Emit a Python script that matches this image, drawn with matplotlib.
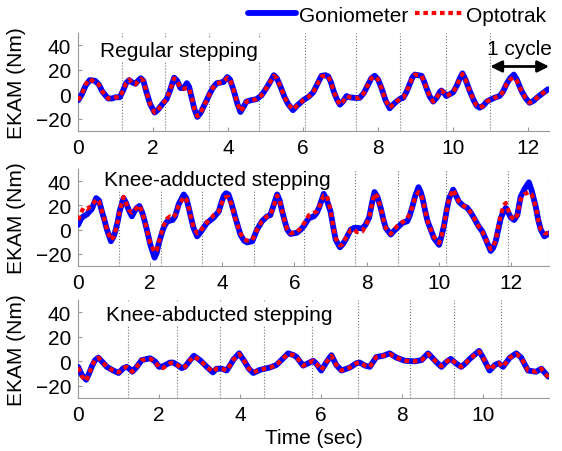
import matplotlib
matplotlib.use("Agg")
import matplotlib.pyplot as plt

plt.rcParams['font.family'] = ['Liberation Sans', 'DejaVu Sans']
plt.rcParams['font.size'] = 15

# ---------------- data ----------------
# Regular stepping
t_reg = [0.00, 0.10, 0.20, 0.31, 0.45, 0.55, 0.65, 0.80, 0.90, 1.00, 1.11, 1.20, 1.28, 1.36, 1.45,
         1.53, 1.60, 1.67, 1.74, 1.82, 1.92, 2.04, 2.12, 2.25, 2.36, 2.45, 2.56, 2.64, 2.73, 2.82,
         2.90, 2.96, 3.03, 3.10, 3.18, 3.27, 3.42, 3.52, 3.60, 3.70, 3.80, 3.88, 3.98, 4.05, 4.15,
         4.25, 4.33, 4.40, 4.49, 4.60, 4.76, 4.89, 5.00, 5.10, 5.22, 5.30, 5.40, 5.50, 5.60, 5.73,
         5.85, 6.00, 6.15, 6.27, 6.36, 6.49, 6.60, 6.67, 6.74, 6.82, 6.90, 6.98, 7.06, 7.16, 7.24,
         7.38, 7.51, 7.62, 7.72, 7.82, 7.91, 8.00, 8.09, 8.20, 8.31, 8.40, 8.49, 8.60, 8.67, 8.76,
         8.84, 8.92, 8.98, 9.07, 9.16, 9.22, 9.29, 9.38, 9.47, 9.56, 9.65, 9.69, 9.76, 9.82, 9.91,
         10.00, 10.10, 10.18, 10.25, 10.33, 10.44, 10.55, 10.63, 10.71, 10.80, 10.90, 10.99, 11.10, 11.24, 11.33,
         11.42, 11.52, 11.62, 11.70, 11.82, 11.93, 12.04, 12.14, 12.27, 12.40, 12.53]
gonio_reg = [-5, 0, 7, 11.5, 11, 8, 2, -3.5, -3.5, -2.5, -2.5, 3, 9, 11.5, 9.5,
             8.5, 11, 13, 11, 2, -8, -15, -13, -8, -4, 3, 13.5, 11, 5, 5,
             9, 6, -3, -12, -18.5, -15, -5.5, 1, 5.5, 9, 9.5, 10, 14, 12, 3,
             -8, -14.5, -11, -6, -5, -4, -1, 4, 9, 15.5, 13, 6, -2, -8, -13,
             -9, -5, -2, 1.5, 7, 15, 15.5, 14.5, 10, 2, -4, -8.5, -6, -1.5, -2.5,
             -3, -3, 1, 7, 13, 15, 12, 5, -5, -11.5, -8.5, -6, -3.5, -3, 2,
             8, 14, 16, 15.5, 15, 11, 5, -2, -6, -3, 2, 3, 1, -1.5, 0,
             1.5, 7, 13, 17, 12, 3, -5, -9.5, -11, -9.5, -6, -4.5, -3, -1.5, 2,
             8, 13, 16, 12, 3, -3, -7, -5.5, -2, 1, 4]
opto_reg = [-5, 0, 8, 12.5, 9.5, 8, 2, -3.5, -3.5, -2.5, -2.5, 3, 9, 12, 9,
            8, 11, 12.5, 11, 2, -8, -15, -13, -8, -4, 3, 13, 11, 5, 4.5,
            5, 5, -3, -12, -18, -15, -5.5, 1, 5.5, 9, 9.5, 10, 13.5, 12, 3,
            -8, -14, -11, -6, -5, -4, -1, 4, 9, 15, 13, 6, -2, -8, -12.5,
            -9, -5, -2, 1.5, 7, 14.5, 15, 14.5, 10, 2, -4, -8.5, -6, -1.5, -2.5,
            -3, -3, 1, 7, 13, 14.5, 12, 5, -5, -11, -8.5, -6, -3.5, -3, 2,
            8, 14, 16, 15.5, 15, 11, 5, -2, -6, -3, 2, 3, 1, -1.5, 0,
            1.5, 7, 13, 16.5, 12, 3, -5, -9.5, -11, -9.5, -6, -4.5, -3, -1.5, 2,
            8, 12, 13.5, 11, 3, -3, -7, -5.5, -2, 1, 4]
cycles_reg = [1.17, 2.33, 3.49, 4.83, 6.06, 7.42, 8.58, 9.82, 10.99]

# Knee-adducted stepping
t_add = [0.00, 0.08, 0.15, 0.24, 0.38, 0.50, 0.58, 0.66, 0.73, 0.80, 0.91, 0.98, 1.03, 1.10, 1.15,
         1.26, 1.33, 1.40, 1.49, 1.56, 1.63, 1.70, 1.78, 1.86, 1.93, 2.00, 2.12, 2.18, 2.23, 2.30,
         2.37, 2.46, 2.55, 2.62, 2.69, 2.79, 2.93, 3.00, 3.06, 3.13, 3.20, 3.30, 3.37, 3.44, 3.57,
         3.70, 3.76, 3.90, 3.97, 4.04, 4.10, 4.17, 4.25, 4.36, 4.50, 4.60, 4.69, 4.83, 4.96, 5.10,
         5.24, 5.33, 5.42, 5.52, 5.59, 5.66, 5.73, 5.80, 5.89, 6.07, 6.17, 6.26, 6.40, 6.54, 6.62,
         6.68, 6.75, 6.81, 6.90, 7.00, 7.07, 7.14, 7.26, 7.34, 7.42, 7.56, 7.65, 7.74, 7.88, 7.97,
         8.07, 8.15, 8.22, 8.30, 8.39, 8.46, 8.53, 8.67, 8.76, 8.85, 8.99, 9.13, 9.20, 9.27, 9.35,
         9.44, 9.50, 9.55, 9.62, 9.69, 9.78, 9.87, 10.01, 10.08, 10.15, 10.22, 10.29, 10.40, 10.48, 10.56,
         10.67, 10.79, 10.89, 10.98, 11.10, 11.21, 11.32, 11.44, 11.51, 11.58, 11.65, 11.72, 11.80, 11.86, 11.93,
         12.00, 12.09, 12.18, 12.27, 12.37, 12.50, 12.58, 12.69, 12.76, 12.83, 12.93, 13.06]
gonio_add = [4, 9, 11, 12.5, 17, 26, 24, 15, 8, 0, -9.5, -6, -1.5, 7, 15,
             26, 22, 16.5, 11, 15, 18, 19.5, 14, 5.5, -3, -12, -23, -19, -12, -5,
             1.5, 6.5, 7.5, 8, 11, 21, 29, 26, 19, 10, 1.5, -5.5, -3, 0, 5.5,
             8.5, 10, 15, 22, 28, 30, 29, 22, 10, -4, -9, -10.5, -9.5, 0, 7,
             11, 12, 20, 29, 24, 15, 7, 0, -3.5, -2.5, 0, 3, 9.5, 11, 14,
             18, 24, 29.5, 24, 15, 3, -8, -14.5, -12, -8, 0, 1.5, 1.5, 1, 4,
             10, 22, 31, 27, 18, 9, 1.5, -4, -1, 1.5, 5.5, 7, 12, 19, 28,
             35, 31, 26, 16, 7, 0, -7, -12.5, -5, 4, 16, 26, 33, 28, 23,
             20, 18, 14, 9.5, 3, -1.5, -9, -17.5, -15, -9.5, 0, 9.5, 15, 18, 14,
             10, 8, 12, 27, 33, 39, 32, 19, 8, 0, -5.5, -3]
opto_add = [8, 14, 18, 17, 20, 25, 23, 15, 8, 0, -8.5, -6, -1.5, 7, 15,
            27, 22, 16.5, 14, 16, 18, 20, 14, 5.5, -3, -11, -18.5, -17, -11, -4,
            3, 9, 11, 10, 12, 20, 27, 25, 19, 10, 2, -3, -2, 1, 6,
            10, 12, 15, 21, 26, 27, 27, 21, 9, -3, -8, -9, -8.5, 0, 7,
            11, 12, 19, 28, 24, 15, 7, 0, -3, -2, 1, 5, 12, 14, 15,
            18, 24, 28, 28, 16, 3, -7, -13, -12, -7, 0, 0, -2, -1.5, 3,
            10, 21, 30, 27, 18, 9, 1.5, -3.5, 0, 3, 6, 9.5, 13, 19, 27,
            31, 30, 25, 16, 7, 0, -6, -11, -5, 4, 16, 26, 33, 28, 23,
            20, 18, 14, 9.5, 3, -1.5, -9, -16, -14, -9, 2, 12, 20, 22, 16,
            11, 8, 12, 25, 29, 31, 29, 19, 8, 0, -3, -3]
cycles_add = [1.12, 2.31, 3.44, 4.88, 6.26, 7.68, 8.87, 10.21, 11.91, 13.05]

# Knee-abducted stepping
t_abd = [0.00, 0.09, 0.20, 0.27, 0.34, 0.42, 0.50, 0.60, 0.71, 0.87, 1.00, 1.12, 1.20, 1.27, 1.34,
         1.45, 1.57, 1.78, 1.90, 2.00, 2.10, 2.27, 2.35, 2.48, 2.56, 2.64, 2.77, 2.86, 3.01, 3.18,
         3.33, 3.42, 3.55, 3.67, 3.76, 3.84, 3.98, 4.05, 4.12, 4.22, 4.33, 4.49, 4.74, 4.90, 5.07,
         5.19, 5.33, 5.40, 5.56, 5.69, 5.81, 5.89, 6.01, 6.14, 6.26, 6.38, 6.51, 6.72, 6.88, 6.96,
         7.09, 7.21, 7.37, 7.54, 7.70, 7.87, 8.07, 8.32, 8.49, 8.65, 8.78, 8.85, 8.98, 9.10, 9.21,
         9.35, 9.47, 9.58, 9.68, 9.91, 10.00, 10.17, 10.30, 10.40, 10.50, 10.67, 10.83, 10.95, 11.12, 11.32,
         11.45, 11.62]
gonio_abd = [-4.5, -11, -15, -10, -4, 1, 3, -0.5, -4.5, -7.5, -9.5, -5.5, -4.5, -6, -8.5,
             -4.5, 1, 2.5, 0, -4.5, -4, -1, -1, -3.5, -5.5, -4.5, 1, 4.5, 1, -4.5,
             -9, -6, -6, -7.5, -3, 1.5, 6.5, 3, -0.5, -6, -9.5, -7, -5, -3, 2.5,
             6.5, 5, 3.5, -3.5, -1.5, 0.5, -2, -7.5, -0.5, 5, -3, -7.5, -5, -1.5, -1,
             -3.5, -4.5, 3.5, 4.5, 6.5, 3, 0.5, 0, 1, 6.5, 2, -0.5, -4.5, -0.5, 2,
             -2, -4.5, -1.5, 2, 8.5, 3.5, -7.5, -3, -1.5, -4.5, 3, 6.5, 3, -7.5, -8.5,
             -6, -12.5]
opto_abd = [-5, -12, -16, -10, -4, 1.5, 3, -0.5, -4.5, -7.5, -9, -5.5, -4.5, -6, -8.5,
            -4.5, 1, 2, 0, -5, -5.5, -1.5, -1, -3.5, -5.5, -4.5, 1, 4, 1, -4.5,
            -8.5, -6, -6, -7.5, -3, 1.5, 6, 3, -0.5, -6, -9, -7, -5, -3, 2.5,
            6, 5, 3.5, -3.5, -1.5, 0.5, -2, -7, -0.5, 4.5, -3, -7.5, -5, -1.5, -1,
            -3.5, -4.5, 3.5, 4.5, 6, 3, 0.5, 0, 1, 6, 2, -0.5, -4, -0.5, 2,
            -2, -4.5, -1.5, 2, 8, 3.5, -7, -3, -1.5, -4.5, 3, 6, 3, -7.5, -8.5,
            -6, -13]
cycles_abd = [1.24, 2.45, 3.51, 4.60, 5.77, 6.92, 8.21, 9.29, 10.46]

titles = ["Regular stepping", "Knee-adducted stepping", "Knee-abducted stepping"]
t_all = [t_reg, t_add, t_abd]
gonio_all = [gonio_reg, gonio_add, gonio_abd]
opto_all = [opto_reg, opto_add, opto_abd]
cycles_all = [cycles_reg, cycles_add, cycles_abd]
xmax = [12.56, 13.06, 11.64]

# ---------------- figure ----------------
fig = plt.figure(figsize=(5.62, 4.52), dpi=100)

# axes boxes in figure fractions (left, bottom, width, height)
boxes = [(0.139, 0.708, 0.838, 0.217),
         (0.139, 0.409, 0.838, 0.215),
         (0.139, 0.117, 0.838, 0.217)]
# title text position (axes fractions)
title_pos = [(0.046, 0.762), (0.054, 0.838), (0.059, 0.80)]

axes = []
for i in range(3):
    ax = fig.add_axes(boxes[i])
    axes.append(ax)

    # cycle boundaries
    for c in cycles_all[i]:
        ax.axvline(c, color='0.45', linestyle=':', linewidth=0.8, zorder=1)

    l1, = ax.plot(t_all[i], gonio_all[i], color='#0000ff', linewidth=4.2,
                  solid_capstyle='round', solid_joinstyle='round', zorder=4, label='Goniometer')
    l2, = ax.plot(t_all[i], opto_all[i], color='#ff0000', linewidth=3.0,
                  linestyle=(0, (1.1, 0.9)), zorder=5, label='Optotrak')

    ax.text(title_pos[i][0], title_pos[i][1], titles[i], transform=ax.transAxes,
            fontsize=15, va='baseline', ha='left', zorder=3,
            bbox=dict(facecolor='white', edgecolor='none', pad=1.5))

    ax.set_xlim(0, xmax[i])
    ax.set_ylim(-30, 50)
    ax.set_xticks(range(0, int(xmax[i]) + 1, 2))
    ax.set_yticks([-20, 0, 20, 40])
    ax.set_ylabel("EKAM (Nm)", labelpad=7)

    ax.spines['top'].set_visible(False)
    ax.spines['right'].set_visible(False)
    ax.spines['left'].set_color('0.6')
    ax.spines['bottom'].set_color('0.6')
    ax.tick_params(direction='in', length=3, color='0.6', labelsize=15, pad=5)

axes[2].set_xlabel("Time (sec)", labelpad=3)

# one cycle marker
axes[0].annotate('', xy=(xmax[0], 22.6), xytext=(cycles_reg[-1], 22.6),
                 arrowprops=dict(arrowstyle='<|-|>', color='black', lw=2, mutation_scale=17,
                                 shrinkA=0, shrinkB=0),
                 annotation_clip=False, zorder=6)
axes[0].text((cycles_reg[-1] + xmax[0]) / 2, 33, "1 cycle", ha='center', va='baseline', fontsize=15)

fig.legend(handles=[l1, l2], loc='center right', bbox_to_anchor=(546 / 562, 1 - 16 / 452),
           ncol=2, frameon=False, borderpad=0, borderaxespad=0, handlelength=2.3,
           handletextpad=0.15, columnspacing=0.3, fontsize=15)

fig.savefig("out.png", dpi=100)
